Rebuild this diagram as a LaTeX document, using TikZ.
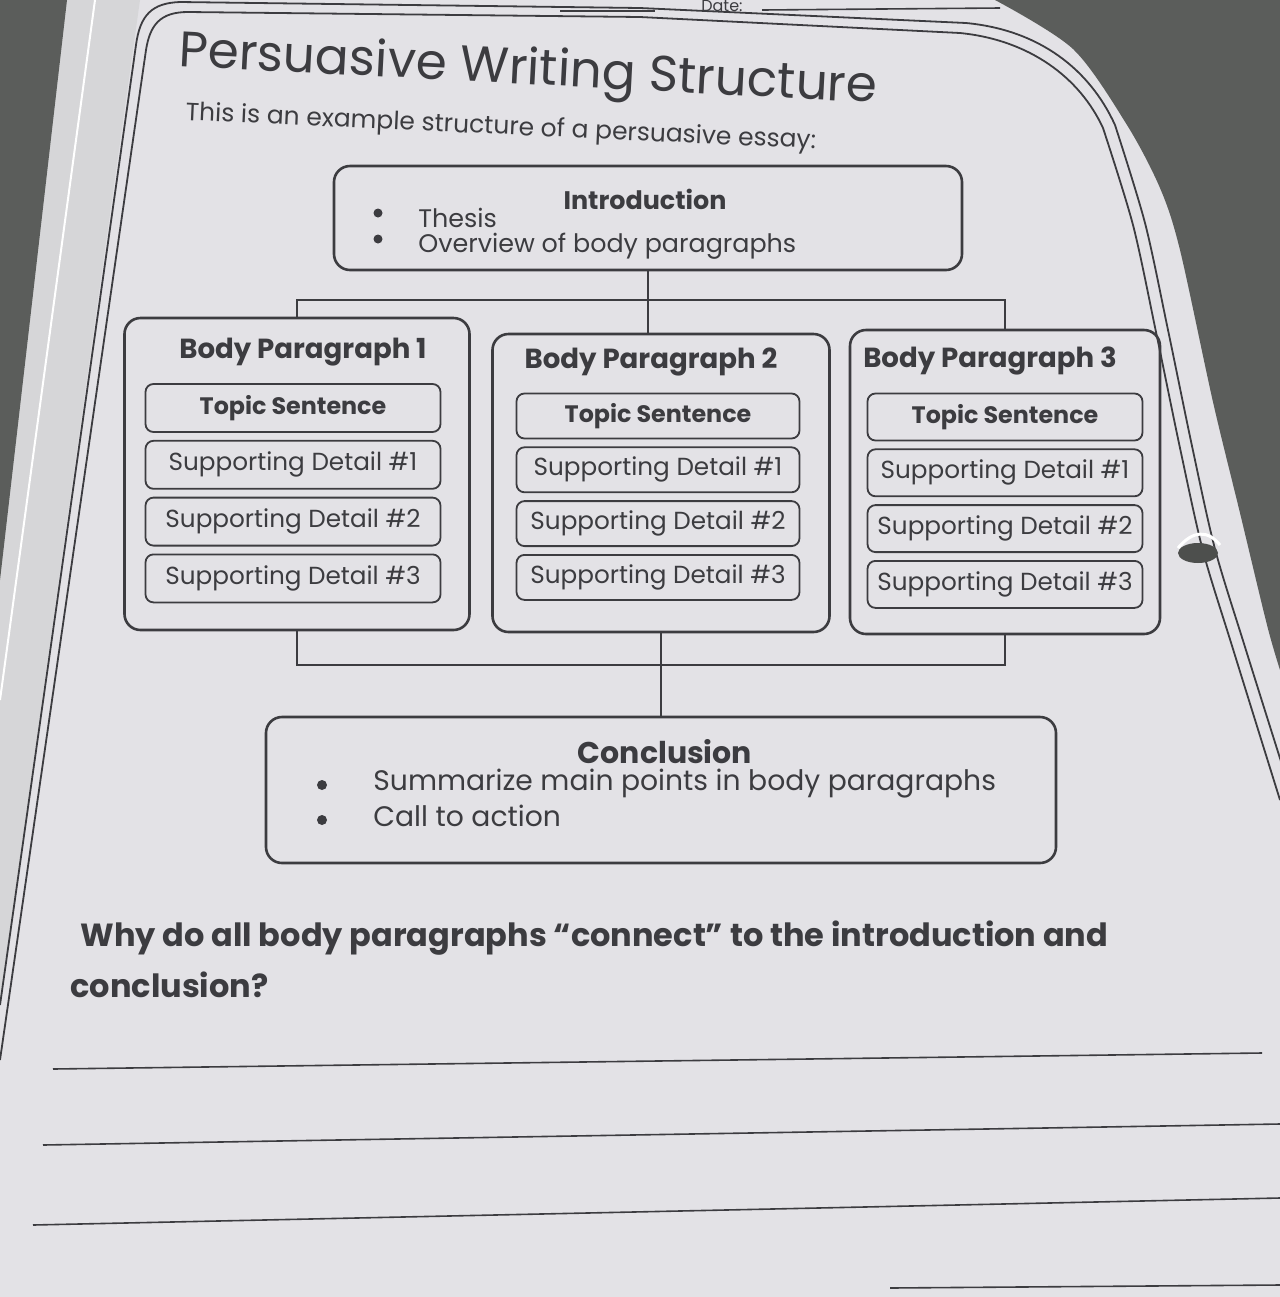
\documentclass[tikz,border=0pt]{standalone}
\usepackage{fontspec}
\setmainfont{Poppins}
\usetikzlibrary{positioning,calc}

\definecolor{paper}{HTML}{E3E2E6}
\definecolor{desk}{HTML}{5B5D5B}
\definecolor{undersheet}{HTML}{D6D6D8}
\definecolor{ink}{HTML}{3C3C40}

\begin{document}
\begin{tikzpicture}[
      x=0.5pt, y=-0.5pt,
      bigbox/.style = {
        draw=ink,
        line width=1.3pt,
        rounded corners=8pt
      },
      smallbox/.style = {
        draw=ink,
        line width=0.9pt,
        rounded corners=4pt,
        inner sep=0pt,
        text=ink,
        font=\fontsize{12.35}{14}\selectfont
      },
      boxhead/.style = {
        text=ink,
        inner sep=0pt,
        font=\bfseries\fontsize{13.8}{16}\selectfont
      },
      dot/.style = {
        circle,
        fill=ink,
        inner sep=0pt,
        minimum size=4.5pt
      },
      item/.style = {
        anchor=west,
        text=ink,
        inner sep=0pt,
        font=\fontsize{12.7}{15}\selectfont
      },
      link/.style = {
        draw=ink,
        line width=1.3pt
      },
      rim/.style = {
        draw=ink,
        line width=0.9pt
      },
      answer/.style = {
        draw=ink,
        line width=0.8pt
      }
    ]
    % page and desk
    \fill[paper] (0,0) rectangle (1280,1297);
    \useasboundingbox (0,0) rectangle (1280,1297);
    \fill[undersheet] (60,0) -- (140,0) -- (0,1000) -- (0,560) -- cycle;
    \draw[white, line width=1pt] (95,0) -- (0,700);
    \fill[desk] (0,0) -- (67,0) -- (0,580) -- cycle;
    \fill[desk] plot[smooth] coordinates {(995,0) (1073,49) (1127,125) (1160,188)
      (1180,250) (1213,402) (1240,513) (1267,625) (1280,670)}
      -- (1280,0) -- cycle;

    % sheet border
    \draw[rim] (0,1005) -- (136,45) .. controls (140,15) and (152,3) .. (180,2)
      -- (640,8) -- (966,23) .. controls (1040,30) and (1090,70) .. (1115,125);
    \draw[rim] plot[smooth] coordinates {(1115,125) (1145,223) (1168,330) (1192,446)
      (1215,549) (1245,647) (1290,790)};
    \draw[rim] (0,1060) -- (146,50) .. controls (150,25) and (160,12) .. (188,12)
      -- (640,17) -- (960,33) .. controls (1030,40) and (1080,78) .. (1103,128);
    \draw[rim] plot[smooth] coordinates {(1103,128) (1133,225) (1156,332) (1180,448)
      (1203,551) (1233,649) (1280,800)};
    \draw[answer] (890,1288) -- (1280,1285);

    % binder curl
    \fill[desk!85!black] (1198,553) ellipse [x radius=10pt, y radius=5pt];
    \draw[white, line width=1.5pt] (1178,548) .. controls (1193,530) and (1208,530) .. (1220,545);

    % header
    \node[text=ink, inner sep=0pt, font=\fontsize{8}{10}\selectfont, anchor=base] (date) at (722,11) {Date:};
    \draw[answer] (560,11) -- (655,11);
    \draw[answer] (762,10) -- (1000,8);

    \node[anchor=base west, inner sep=0pt, text=ink, rotate=-3,
      font=\fontsize{25}{30}\selectfont] (title) at (178,66) {Persuasive Writing Structure};
    \node[anchor=base west, inner sep=0pt, text=ink, rotate=-2.6,
      font=\fontsize{12.5}{15}\selectfont] (intro text) at (185,120) {This is an example structure of a persuasive essay:};

    % introduction
    \node[bigbox, minimum width=314pt, minimum height=52pt] (intro) at (648,218) {};
    \node[boxhead, font=\bfseries\fontsize{12.7}{15}\selectfont] (intro head) at (645,199) {Introduction};
    \node[dot] (ib1) at (378,213) {};
    \node[item] (thesis) at (418,218) {Thesis};
    \node[dot] (ib2) at (378,239) {};
    \node[item] (overview) at (418,246) {Overview of body paragraphs};

    % body paragraphs
    \foreach \n/\ox/\oy/\ow/\oh/\tx/\ty/\ix/\iy/\iw/\ih in {
        1/297/474/345/312/303/352/293/408/295/48,
        2/661/483/337/298/651/362/658/416/283/45,
        3/1005/482/310/304/990/361/1005/417/275/47} {
      \node[bigbox, minimum width=\ow*0.5pt, minimum height=\oh*0.5pt] (p\n) at (\ox,\oy) {};
      \node[boxhead] (p\n t) at (\tx,\ty) {Body Paragraph \n};
      \node[smallbox, font=\bfseries\fontsize{11.9}{14}\selectfont,
        minimum width=\iw*0.5pt, minimum height=\ih*0.5pt] (p\n s0) at (\ix,\iy) {Topic Sentence};
      \foreach \d [count=\c from 0] in {1,2,3} {
        \node[smallbox, minimum width=\iw*0.5pt, minimum height=\ih*0.5pt,
          below=3.5pt of p\n s\c] (p\n s\d) {Supporting Detail \#\d};
      }
    }

    % connectors
    \coordinate (upbar) at (0,300);
    \coordinate (lowbar) at (0,665);
    \draw[link] (intro.south) -- (intro.south |- p2.north);
    \draw[link] (p1.north) -- (p1.north |- upbar) -- (p3.north |- upbar) -- (p3.north);
    \draw[link] (p1.south) -- (p1.south |- lowbar) -- (p3.south |- lowbar) -- (p3.south);

    % conclusion
    \node[bigbox, minimum width=395pt, minimum height=73pt] (concl) at (661,790) {};
    \draw[link] (p2.south) -- (concl.north);
    \node[boxhead, font=\bfseries\fontsize{15}{18}\selectfont] (concl head) at (665,752) {Conclusion};
    \node[dot, minimum size=5pt] (cb1) at (322,785) {};
    \node[item, font=\fontsize{14.1}{17}\selectfont] (summ) at (373,784) {Summarize main points in body paragraphs};
    \node[dot, minimum size=5pt] (cb2) at (322,820) {};
    \node[item, font=\fontsize{14.1}{17}\selectfont] (call) at (373,816) {Call to action};

    % question and answer lines
    \node[anchor=west, inner sep=0pt, text=ink, font=\bfseries\fontsize{16}{19}\selectfont] (q1) at (80,938)
      {Why do all body paragraphs “connect” to the introduction and};
    \node[anchor=west, inner sep=0pt, text=ink, font=\bfseries\fontsize{16}{19}\selectfont] (q2) at (70,985)
      {conclusion?};
    \draw[answer] (53,1069) -- (1262,1053);
    \draw[answer] (43,1145) -- (1280,1124);
    \draw[answer] (33,1225) -- (1280,1198);
  \end{tikzpicture}
\end{document}
